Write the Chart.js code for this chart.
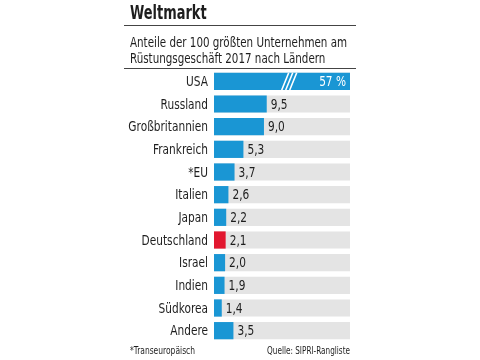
<!DOCTYPE html>
<html>
<head>
<meta charset="utf-8">
<script src="https://cdn.jsdelivr.net/npm/chart.js@4"></script>
<style>
  html, body { margin: 0; padding: 0; background: #fff; }
  #wrap { width: 480px; height: 360px; }
</style>
</head>
<body>
<div id="wrap"><canvas id="chart" width="480" height="360"></canvas></div>
<script>
const countries = ['USA', 'Russland', 'Großbritannien', 'Frankreich', '*EU', 'Italien', 'Japan',
    'Deutschland', 'Israel', 'Indien', 'Südkorea', 'Andere'];
const shares = [57, 9.5, 9.0, 5.3, 3.7, 2.6, 2.2, 2.1, 2.0, 1.9, 1.4, 3.5];
const shareLabels = ['57 %', '9,5', '9,0', '5,3', '3,7', '2,6', '2,2', '2,1', '2,0', '1,9', '1,4', '3,5'];
const highlight = 'Deutschland';
const axisMax = 24.5;   // USA bar is cut off (broken) at the end of the track
const breakAt = 12.2;   // where the "///" break marks sit on the USA bar

const FONT = '"DejaVu Sans Condensed", "Liberation Sans Narrow", Roboto, sans-serif';
const BLUE = '#1a96d4';
const RED = '#e2172f';
const GRAY = '#e4e4e4';
const TEXT = '#1e1e1e';

const tracks = countries.map(() => axisMax);

// condensed text: squeeze horizontally around the anchor point
function squeezeText(ctx, text, x, y, align, sx) {
    ctx.save();
    ctx.textAlign = align;
    ctx.translate(x, y);
    ctx.scale(sx, 1);
    ctx.fillText(text, 0, 0);
    ctx.restore();
}

// Title, subtitle, rules, footnotes
const framePlugin = {
    id: 'frame',
    beforeDraw(chart) {
        const ctx = chart.ctx;
        ctx.save();
        ctx.fillStyle = TEXT;
        ctx.textBaseline = 'alphabetic';
        ctx.font = 'bold 20px ' + FONT;
        squeezeText(ctx, 'Weltmarkt', 130, 19, 'left', 0.72);
        ctx.font = '14px ' + FONT;
        squeezeText(ctx, 'Anteile der 100 größten Unternehmen am', 130, 47, 'left', 0.82);
        squeezeText(ctx, 'Rüstungsgeschäft 2017 nach Ländern', 130, 63, 'left', 0.82);
        ctx.strokeStyle = '#444';
        ctx.lineWidth = 1;
        ctx.beginPath();
        ctx.moveTo(124, 25.5); ctx.lineTo(356, 25.5);
        ctx.moveTo(124, 68.5); ctx.lineTo(356, 68.5);
        ctx.stroke();
        ctx.font = '10px ' + FONT;
        squeezeText(ctx, '*Transeuropäisch', 130, 354, 'left', 0.84);
        squeezeText(ctx, 'Quelle: SIPRI-Rangliste', 350, 354, 'right', 0.81);
        ctx.restore();
    }
};

// Category names, value labels and break marks
const labelPlugin = {
    id: 'labels',
    afterDatasetsDraw(chart) {
        const ctx = chart.ctx;
        const meta = chart.getDatasetMeta(1);
        const xs = chart.scales.x;
        const ys = chart.scales.y;
        ctx.save();
        ctx.textBaseline = 'middle';
        ctx.fillStyle = TEXT;
        ctx.font = '14px ' + FONT;
        ys.ticks.forEach((t, i) => {
            squeezeText(ctx, ys.getLabelForValue(t.value), ys.right - 6, ys.getPixelForTick(i) + 1, 'right', 0.84);
        });
        ctx.font = '14px ' + FONT;
        meta.data.forEach((bar, i) => {
            if (shares[i] > axisMax) {
                // broken bar
                const bx = xs.getPixelForValue(breakAt);
                const top = bar.y - bar.height / 2;
                const bottom = bar.y + bar.height / 2;
                ctx.strokeStyle = '#fff';
                ctx.lineWidth = 1.6;
                ctx.beginPath();
                for (let k = 0; k < 3; k++) {
                    const off = k * 4;
                    ctx.moveTo(bx + off, bottom);
                    ctx.lineTo(bx + off + 7, top);
                }
                ctx.stroke();
                ctx.fillStyle = '#fff';
                squeezeText(ctx, shareLabels[i], xs.getPixelForValue(axisMax) - 4, bar.y + 1, 'right', 0.84);
            } else {
                ctx.fillStyle = TEXT;
                squeezeText(ctx, shareLabels[i], bar.x + 4, bar.y + 1, 'left', 0.84);
            }
        });
        ctx.restore();
    }
};

new Chart(document.getElementById('chart').getContext('2d'), {
    type: 'bar',
    data: {
        labels: countries,
        datasets: [{
            data: tracks,
            backgroundColor: GRAY,
            grouped: false,
            order: 2,
            barPercentage: 0.76,
            categoryPercentage: 1
        }, {
            data: shares,
            backgroundColor: countries.map(c => c === highlight ? RED : BLUE),
            grouped: false,
            order: 1,
            barPercentage: 0.76,
            categoryPercentage: 1
        }]
    },
    options: {
        indexAxis: 'y',
        responsive: false,
        animation: false,
        layout: { padding: { left: 0, right: 130, top: 70, bottom: 18 } },
        plugins: {
            legend: { display: false },
            tooltip: { enabled: false }
        },
        scales: {
            x: {
                display: false,
                min: 0,
                max: axisMax
            },
            y: {
                afterFit(scale) { scale.width = 214; },
                grid: { display: false, drawTicks: false },
                border: { display: false },
                ticks: { display: false }
            }
        }
    },
    plugins: [framePlugin, labelPlugin]
});
</script>
</body>
</html>
